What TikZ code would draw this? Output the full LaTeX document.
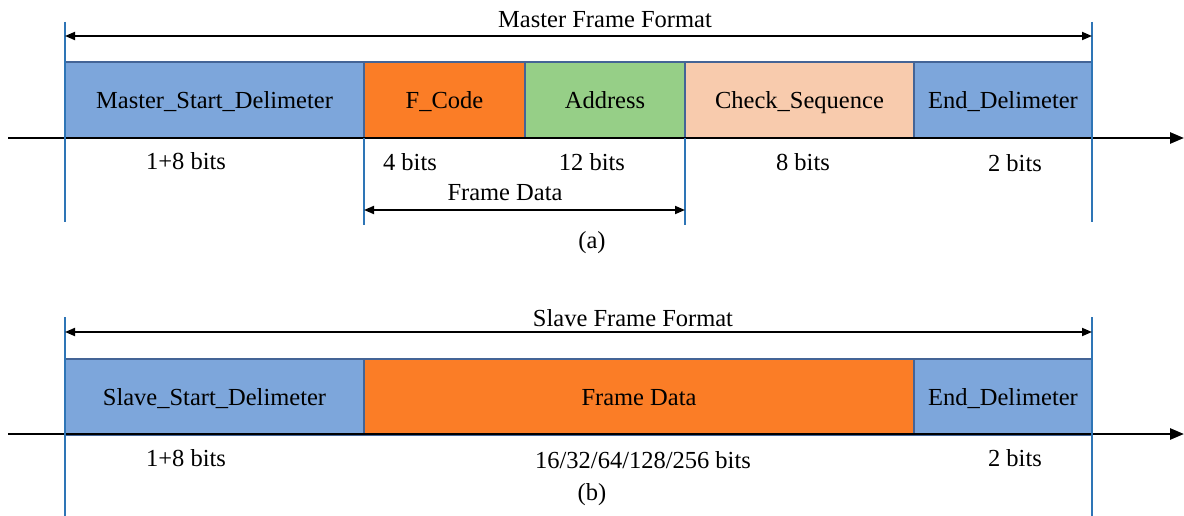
\documentclass[tikz,border=0pt]{standalone}
\usepackage{fontspec}
\setmainfont{Liberation Serif}
\usetikzlibrary{arrows.meta}
\definecolor{fblue}{RGB}{125,166,219}
\definecolor{forange}{RGB}{251,125,38}
\definecolor{fgreen}{RGB}{150,207,135}
\definecolor{fpeach}{RGB}{248,203,173}
\definecolor{vline}{RGB}{46,117,182}
\definecolor{bord}{RGB}{68,100,150}
\newcommand{\fs}{\fontsize{24.5}{29}\selectfont}
\begin{document}
\begin{tikzpicture}[x=1pt,y=-1pt,
  field/.style={draw=bord, line width=1.2pt, minimum height=76pt, inner sep=0pt, outer sep=0pt, anchor=north west, font=\fs, text=black, text height=17pt, text depth=0pt},
  lbl/.style={inner sep=0pt, font=\fs, text=black},
  vl/.style={draw=vline, line width=1.8pt},
  axis/.style={draw=black, line width=2.6pt, -{Triangle[length=14pt,width=11pt]}},
  dim/.style={draw=black, line width=1.8pt, {Triangle[length=10pt,width=8pt]}-{Triangle[length=10pt,width=8pt]}}]
\useasboundingbox (0,0) rectangle (1184,516);
\fill[white] (0,0) rectangle (1184,516);

% ---------- (a) master frame ----------
\node[field, fill=fblue, minimum width=299pt] (msd) at (65,62) {Master\_Start\_Delimeter};
\node[field, fill=forange, minimum width=161pt] (fc) at (364,62) {F\_Code};
\node[field, fill=fgreen, minimum width=160pt] (addr) at (525,62) {Address};
\node[field, fill=fpeach, minimum width=229pt] (cs) at (685,62) {Check\_Sequence};
\node[field, fill=fblue, minimum width=178pt] (ed1) at (914,62) {End\_Delimeter};

\coordinate (axAs) at (8,138);
\coordinate (axAe) at (1184,138);
\draw[axis] (axAs) -- (axAe);

\coordinate (va1t) at (65,22);   \coordinate (va1b) at (65,222);
\coordinate (va2t) at (364,138); \coordinate (va2b) at (364,225);
\coordinate (va3t) at (685,138); \coordinate (va3b) at (685,225);
\coordinate (va4t) at (1092,22); \coordinate (va4b) at (1092,222);
\draw[vl] (va1t) -- (va1b);
\draw[vl] (va2t) -- (va2b);
\draw[vl] (va3t) -- (va3b);
\draw[vl] (va4t) -- (va4b);

\coordinate (ma1) at (65,36);
\coordinate (ma2) at (1092,36);
\draw[dim] (ma1) -- (ma2);
\node[lbl] (mff) at (605,20) {Master Frame Format};

\coordinate (fd1) at (364,210);
\coordinate (fd2) at (685,210);
\draw[dim] (fd1) -- (fd2);
\node[lbl] (fdl) at (505,193) {Frame Data};

\node[lbl] (b1) at (186,161) {1+8 bits};
\node[lbl] (b2) at (410,162) {4 bits};
\node[lbl] (b3) at (592,162) {12 bits};
\node[lbl] (b4) at (803,162) {8 bits};
\node[lbl] (b5) at (1015,163) {2 bits};
\node[lbl] (capa) at (592,243) {(a)};

% ---------- (b) slave frame ----------
\node[field, fill=fblue, minimum width=299pt] (ssd) at (65,359) {Slave\_Start\_Delimeter};
\node[field, fill=forange, minimum width=550pt] (sfd) at (364,359) {Frame Data};
\node[field, fill=fblue, minimum width=178pt] (ed2) at (914,359) {End\_Delimeter};

\coordinate (axBs) at (8,434);
\coordinate (axBe) at (1184,434);
\draw[axis] (axBs) -- (axBe);

\coordinate (vb1t) at (65,317);   \coordinate (vb1b) at (65,516);
\coordinate (vb2t) at (1092,317); \coordinate (vb2b) at (1092,516);
\draw[vl] (vb1t) -- (vb1b);
\draw[vl] (vb2t) -- (vb2b);

\coordinate (sa1) at (65,332);
\coordinate (sa2) at (1092,332);
\draw[dim] (sa1) -- (sa2);
\node[lbl] (sff) at (633,318) {Slave Frame Format};

\node[lbl] (c1) at (186,458) {1+8 bits};
\node[lbl] (c2) at (643,460) {16/32/64/128/256 bits};
\node[lbl] (c3) at (1015,458) {2 bits};
\node[lbl] (capb) at (592,495) {(b)};
\end{tikzpicture}
\end{document}
